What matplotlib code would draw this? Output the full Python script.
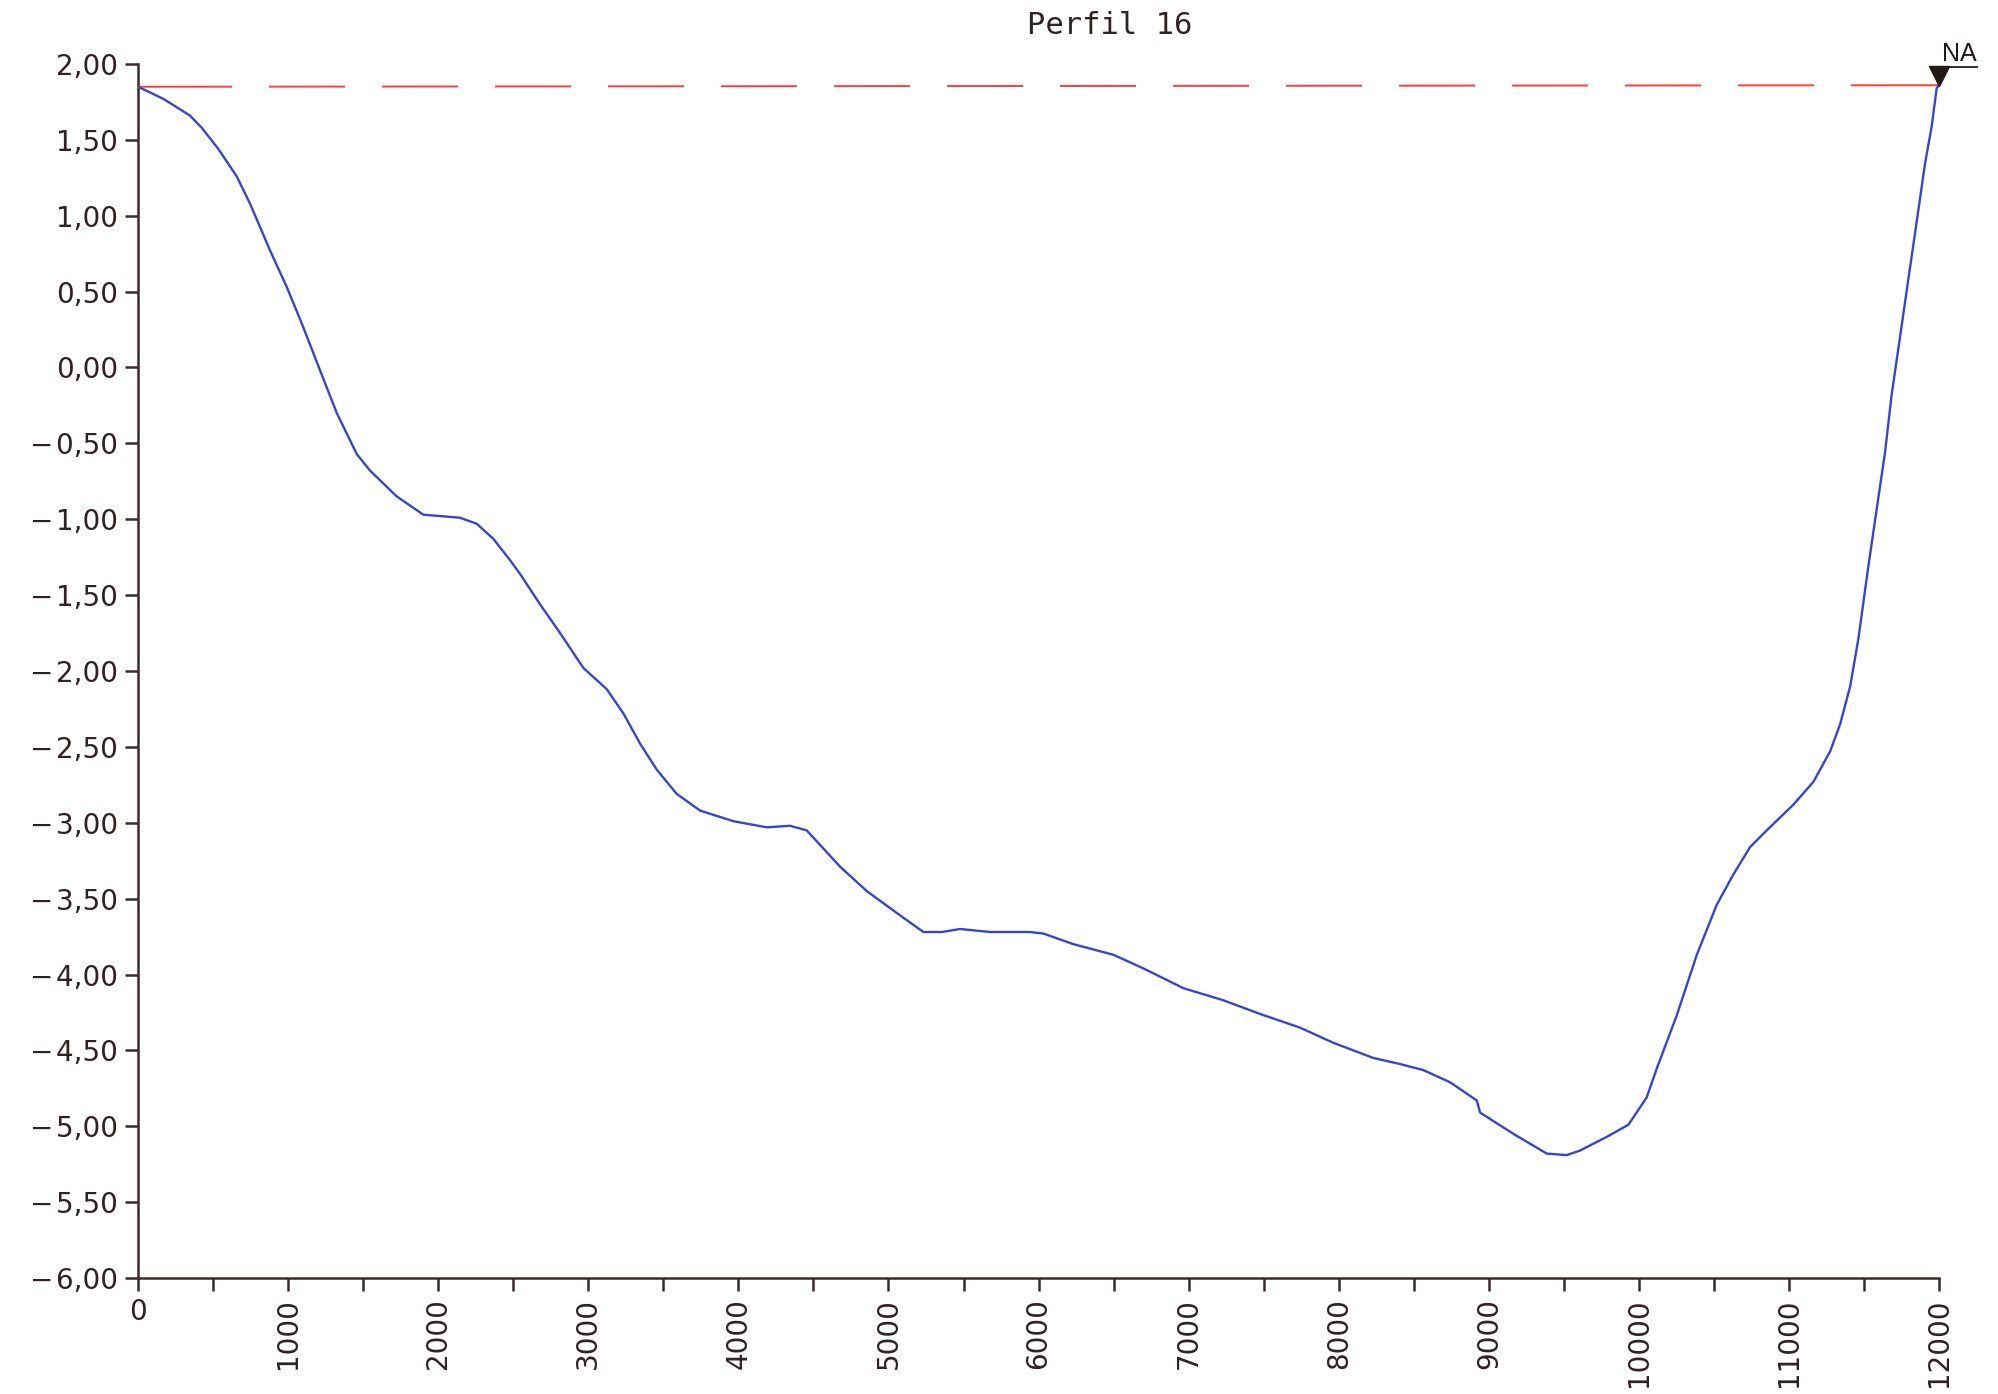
"""
Perfil 16 - bathymetric profile
"""

import matplotlib.pyplot as plt
from matplotlib.ticker import FixedLocator

# distance along profile (m) and bed level (m)
distancia = [0, 169, 346, 424, 535, 657, 746, 880, 991, 1091, 1213, 1324,
             1457, 1546, 1724, 1901, 2145, 2257, 2368, 2479, 2545, 2678, 2812,
             2967, 3123, 3234, 3346, 3456, 3589, 3745, 3967, 4189, 4344, 4455,
             4678, 4855, 5077, 5233, 5355, 5477, 5677, 5943, 6032, 6232, 6499,
             6699, 6965, 7232, 7476, 7742, 7964, 8231, 8409, 8564, 8742, 8920,
             8942, 9164, 9386, 9519, 9608, 9786, 9930, 10052, 10119, 10252,
             10386, 10519, 10630, 10741, 10852, 11030, 11163, 11274, 11341,
             11408, 11462, 11529, 11585, 11640, 11684, 11740, 11795, 11851,
             11906, 11951, 11984, 12000]
cota = [1.85, 1.77, 1.66, 1.58, 1.44, 1.26, 1.08, 0.77, 0.53, 0.29, -0.02,
        -0.30, -0.57, -0.68, -0.85, -0.97, -0.99, -1.03, -1.13, -1.27, -1.36,
        -1.56, -1.75, -1.98, -2.12, -2.28, -2.48, -2.65, -2.81, -2.92, -2.99,
        -3.03, -3.02, -3.05, -3.29, -3.45, -3.61, -3.72, -3.72, -3.70, -3.72,
        -3.72, -3.73, -3.80, -3.87, -3.96, -4.09, -4.17, -4.26, -4.35, -4.45,
        -4.55, -4.59, -4.63, -4.71, -4.83, -4.91, -5.05, -5.18, -5.19, -5.16,
        -5.07, -4.99, -4.81, -4.62, -4.27, -3.87, -3.54, -3.34, -3.16, -3.05,
        -2.88, -2.73, -2.53, -2.35, -2.10, -1.79, -1.31, -0.93, -0.56, -0.18,
        0.20, 0.58, 0.96, 1.34, 1.59, 1.84, 1.86]

# water level (NA)
na_x = [0, 12000]
na_y = [1.85, 1.86]

x_ticks = list(range(0, 12001, 500))
x_labels = ['0', '1000', '2000', '3000', '4000', '5000', '6000',
            '7000', '8000', '9000', '10000', '11000', '12000']
y_ticks = [2.0, 1.5, 1.0, 0.5, 0.0, -0.5, -1.0, -1.5, -2.0, -2.5, -3.0,
           -3.5, -4.0, -4.5, -5.0, -5.5, -6.0]

axis_col = '#3a2c2c'
text_col = '#2e2222'
plt.rcParams['font.family'] = ['DejaVu Sans']

fig = plt.figure(figsize=(19.98, 13.94), dpi=100)
ax = fig.add_axes([0.0691, 0.0832, 0.9014, 0.8709])

# CAD-like dash pattern: long end dashes, regular ones in between (px -> pt / lw)
lw_na = 1.4
dash_px = [94, 37] + [76, 37] * 14 + [100, 60]
ax.plot(na_x, na_y, color='#ff3c3c', lw=lw_na,
        dashes=[d * 0.72 / lw_na for d in dash_px], zorder=2)
ax.plot(distancia, cota, color='#3646c8', lw=1.7, solid_joinstyle='round',
        zorder=3)

# NA marker
ax.plot([na_x[-1]], [na_y[-1] + 0.06], marker='v', color='#231818',
        markersize=14, clip_on=False, zorder=4)
ax.text(na_x[-1] + 20, 1.985, 'NA', fontsize=18, color='#231818',
        family='Liberation Sans', ha='left', va='bottom', clip_on=False)
ax.plot([na_x[-1] - 30, na_x[-1] + 250], [1.98, 1.98], color='#231818',
        lw=1.3, clip_on=False)

ax.set_xlim(0, 12000)
ax.set_ylim(-6, 2)

for s in ['top', 'right']:
    ax.spines[s].set_visible(False)
for s in ['left', 'bottom']:
    ax.spines[s].set_color(axis_col)
    ax.spines[s].set_linewidth(1.8)

ax.xaxis.set_major_locator(FixedLocator(x_ticks))
ax.set_xticklabels([x_labels[i // 2] if i % 2 == 0 else '' for i in range(len(x_ticks))])
for i, lab in enumerate(ax.get_xticklabels()):
    if i > 0:
        lab.set_rotation(90)
ax.set_yticks(y_ticks)
ax.set_yticklabels([f'{v:.2f}'.replace('.', ',').replace('-', '\u2212\u200a')
                    for v in y_ticks])

ax.tick_params(axis='both', colors=axis_col, length=9.5, width=1.8,
               labelsize=20, labelcolor=text_col, pad=5)

fig.text(0.5556, 0.982, 'Perfil 16', fontsize=22, family='DejaVu Sans Mono',
         color=text_col, ha='center', va='center')

fig.savefig('out.png', dpi=100, facecolor='white')
